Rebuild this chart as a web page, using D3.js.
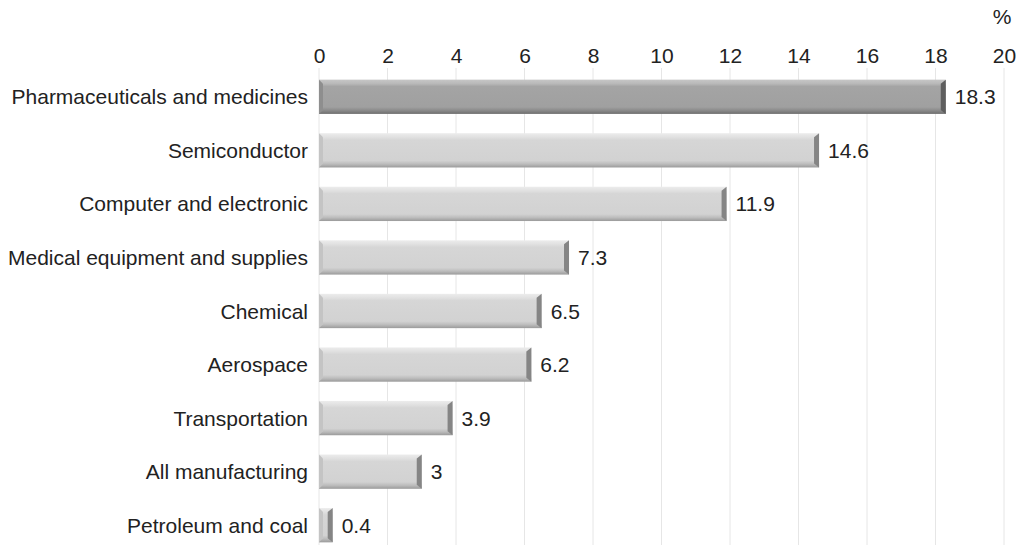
<!DOCTYPE html>
<html><head><meta charset="utf-8">
<script src="https://cdn.jsdelivr.net/npm/d3@7/dist/d3.min.js"></script>
<style>body{margin:0;background:#fff;}svg{display:block;font-family:"Liberation Sans",Arial,sans-serif;}</style>
</head><body>
<svg id="c" width="1025" height="545"></svg>
<script>
const categories = ["Pharmaceuticals and medicines","Semiconductor","Computer and electronic","Medical equipment and supplies","Chemical","Aerospace","Transportation","All manufacturing","Petroleum and coal"];
const values = [18.3,14.6,11.9,7.3,6.5,6.2,3.9,3,0.4];
const valueLabels = ["18.3","14.6","11.9","7.3","6.5","6.2","3.9","3","0.4"];
const ticks = [0,2,4,6,8,10,12,14,16,18,20];
const unit = "%";

const FS = 21;
const svg = d3.select("#c");
const x = d3.scaleLinear().domain([0,20]).range([319,1004]);
const y = d3.scaleBand().domain(categories).range([70,552]).paddingInner(0.36).paddingOuter(0.18);

const defs = svg.append("defs");
function grad(id, stops){
  const g = defs.append("linearGradient").attr("id",id).attr("x1",0).attr("y1",0).attr("x2",0).attr("y2",1);
  stops.forEach(s=>g.append("stop").attr("offset",s[0]).attr("stop-color",s[1]));
}
grad("gDark",[[0,"#c6c6c6"],[0.12,"#b8b8b8"],[0.2,"#a4a4a4"],[0.8,"#a0a0a0"],[0.9,"#8a8a8a"],[1,"#6e6e6e"]]);
grad("gLight",[[0,"#ececec"],[0.12,"#e0e0e0"],[0.2,"#d6d6d6"],[0.8,"#d2d2d2"],[0.9,"#bcbcbc"],[1,"#9a9a9a"]]);

// gridlines
svg.append("g").selectAll("line").data(ticks).join("line")
  .attr("x1",d=>x(d)).attr("x2",d=>x(d)).attr("y1",68).attr("y2",545)
  .attr("stroke","#e6e6e6").attr("stroke-width",1);

// top axis labels
const ax = svg.append("g").attr("transform","translate(0,63)").call(d3.axisTop(x).tickValues(ticks).tickSize(0).tickPadding(0));
ax.select(".domain").remove();
ax.selectAll("text").attr("font-size",FS).attr("fill","#222").attr("font-family","Liberation Sans, Arial, sans-serif").attr("dy",0);

svg.append("text").attr("x",x(20)-2).attr("y",24).attr("text-anchor","middle").attr("font-size",FS).attr("fill","#222").text(unit);

// bars
const bars = svg.append("g").selectAll("g").data(categories).join("g");
bars.append("rect")
  .attr("x",x(0)).attr("y",d=>y(d)).attr("width",(d,i)=>x(values[i])-x(0)).attr("height",y.bandwidth())
  .attr("fill",(d,i)=>i===0?"url(#gDark)":"url(#gLight)");
// right bevel edge
bars.append("path")
  .attr("d",(d,i)=>{
    const x1=x(values[i]), x0=x1-Math.min(5,(x1-x(0))/2), y0=y(d), y1=y(d)+y.bandwidth();
    return `M${x0},${y0+4}L${x1},${y0}L${x1},${y1}L${x0},${y1-4}Z`;
  })
  .attr("fill",(d,i)=>i===0?"#5e5e5e":"#858585");
// left bevel edge
bars.append("path")
  .attr("d",(d,i)=>{
    const x0=x(0), x1=x0+Math.min(4,(x(values[i])-x0)/3), y0=y(d), y1=y(d)+y.bandwidth();
    return `M${x0},${y0}L${x1},${y0+4}L${x1},${y1-4}L${x0},${y1}Z`;
  })
  .attr("fill",(d,i)=>i===0?"#8e8e8e":"#c4c4c4");

// category labels
svg.append("g").selectAll("text").data(categories).join("text")
  .attr("x",308).attr("y",d=>y(d)+y.bandwidth()/2).attr("dy","0.36em")
  .attr("text-anchor","end").attr("font-size",FS).attr("fill","#222").text(d=>d);

// value labels
svg.append("g").selectAll("text").data(categories).join("text")
  .attr("x",(d,i)=>x(values[i])+9).attr("y",d=>y(d)+y.bandwidth()/2).attr("dy","0.36em")
  .attr("font-size",FS).attr("fill","#222").text((d,i)=>valueLabels[i]);
</script>
</body></html>
